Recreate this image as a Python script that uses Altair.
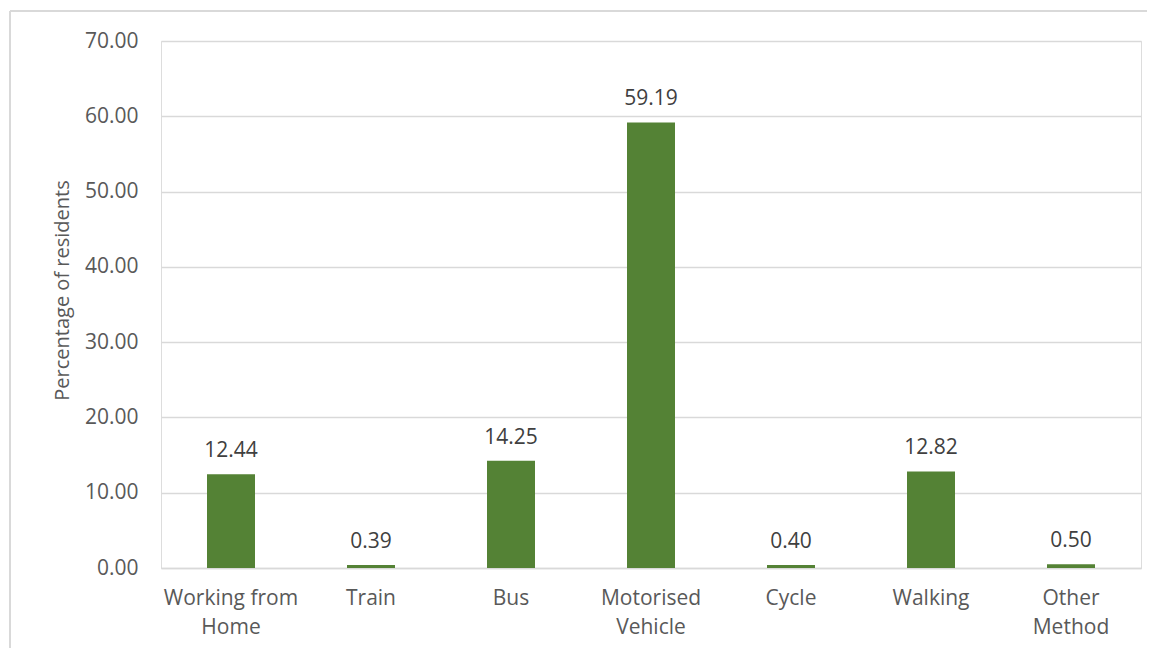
import altair as alt
import pandas as pd

categories = ["Working from Home", "Train", "Bus", "Motorised Vehicle", "Cycle", "Walking", "Other Method"]
values = [12.44, 0.39, 14.25, 59.19, 0.40, 12.82, 0.50]

df = pd.DataFrame({"mode": categories, "pct": values})

FONT = "Open Sans"
GREY = "#595959"
FS = 21

label_expr = ("datum.label == 'Working from Home' ? ['Working from', 'Home'] : "
              "datum.label == 'Motorised Vehicle' ? ['Motorised', 'Vehicle'] : "
              "datum.label == 'Other Method' ? ['Other', 'Method'] : datum.label")

x = alt.X("mode:N", sort=categories, title=None,
          scale=alt.Scale(paddingInner=0, paddingOuter=0),
          axis=alt.Axis(labelAngle=0, labelExpr=label_expr, labelFont=FONT, labelFontSize=FS,
                        labelColor=GREY, labelPadding=19, labelLineHeight=29,
                        ticks=False, domainColor="#d9d9d9", domainWidth=1.5, grid=False))
y = alt.Y("pct:Q", title="Percentage of residents",
          scale=alt.Scale(domain=[0, 70], nice=False),
          axis=alt.Axis(values=[0, 10, 20, 30, 40, 50, 60, 70], format=".2f",
                        labelFont=FONT, labelFontSize=FS, labelColor=GREY, labelPadding=23,
                        ticks=False, domain=False, gridColor="#d9d9d9", gridWidth=1.5,
                        titleFont=FONT, titleFontSize=20, titleColor=GREY, titleFontWeight="normal",
                        titlePadding=12, titleY=249))

bars = alt.Chart(df).mark_bar(size=48, color="#548235").encode(x=x, y=y)
texts = alt.Chart(df).mark_text(font=FONT, fontSize=FS, color="#404040", baseline="bottom", dy=-13).encode(
    x=alt.X("mode:N", sort=categories), y="pct:Q", text=alt.Text("pct:Q", format=".2f"))

frame_top = alt.Chart(df).mark_rule(color="#d9d9d9", strokeWidth=1.5, clip=False).encode(
    x=alt.value(-151), x2=alt.value(1100), y=alt.value(-30))
frame_left = alt.Chart(df).mark_rule(color="#d9d9d9", strokeWidth=1.5, clip=False).encode(
    x=alt.value(-151), y=alt.value(-30), y2=alt.value(700))

chart = alt.layer(frame_top, frame_left, bars, texts).properties(
    width=980, height=527,
    padding={"left": 153, "top": 33, "right": 6, "bottom": 80},
    autosize=alt.AutoSizeParams(type="none"),
).configure_view(stroke=None).configure(background="white")

chart.save("out.html", embed_options={"renderer": "svg", "actions": False})
